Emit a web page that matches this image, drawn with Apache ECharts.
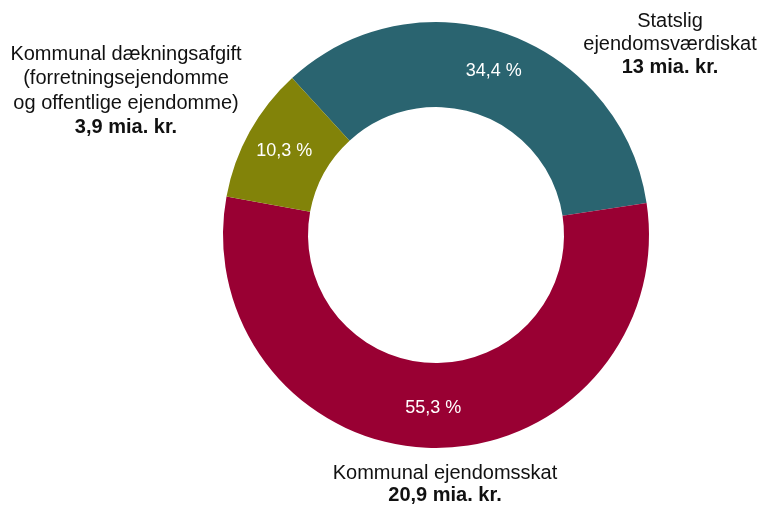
<!DOCTYPE html>
<html>
<head>
<meta charset="utf-8">
<script src="https://cdn.jsdelivr.net/npm/echarts@6/dist/echarts.min.js"></script>
<style>
html, body { margin: 0; padding: 0; background: #fff; }
#chart { width: 764px; height: 506px; }
</style>
</head>
<body>
<div id="chart"></div>
<script>
// data
var names = ["Statslig ejendomsværdiskat", "Kommunal ejendomsskat", "Kommunal dækningsafgift"];
var shares = [34.4, 55.3, 10.3];
var amounts = ["13 mia. kr.", "20,9 mia. kr.", "3,9 mia. kr."];
var labelLines = [
    ["Statslig", "ejendomsværdiskat"],
    ["Kommunal ejendomsskat"],
    ["Kommunal dækningsafgift", "(forretningsejendomme", "og offentlige ejendomme)"]
];
var colors = ["#2a6470", "#990033", "#828309"];

var font = "'Liberation Sans', Arial, sans-serif";

// outer labels: [center x, top y, line height]
var labelPos = [[670, 10, 23], [445, 462, 22.5], [126, 42, 24.5]];

var graphics = [];
for (var i = 0; i < names.length; i++)
{
    var lh = labelPos[i][2];
    var text = labelLines[i].join("\n") + "\n{b|" + amounts[i] + "}";
    graphics.push({
        type: "text",
        x: labelPos[i][0],
        y: labelPos[i][1],
        style: {
            text: text,
            fill: "#111",
            font: "20px " + font,
            align: "center",
            verticalAlign: "top",
            lineHeight: lh,
            rich: {
                b: { fontWeight: "bold", fontSize: 20, fontFamily: font, lineHeight: lh, fill: "#111" }
            }
        }
    });
}

var chart = echarts.init(document.getElementById("chart"));
chart.setOption({
    animation: false,
    color: colors,
    series: [
        {
            type: "pie",
            center: [436, 235],
            radius: [128, 213],
            startAngle: 132.5,
            clockwise: true,
            avoidLabelOverlap: false,
            label: {
                show: true,
                position: "inside",
                color: "#fff",
                fontSize: 18,
                fontFamily: font,
                formatter: function (p)
                {
                    return p.value.toFixed(1).replace(".", ",") + " %";
                }
            },
            labelLine: { show: false },
            itemStyle: { borderWidth: 0 },
            emphasis: { disabled: true },
            data: names.map(function (n, i)
            {
                return { name: n, value: shares[i] };
            })
        }
    ],
    graphic: graphics
});
</script>
</body>
</html>
